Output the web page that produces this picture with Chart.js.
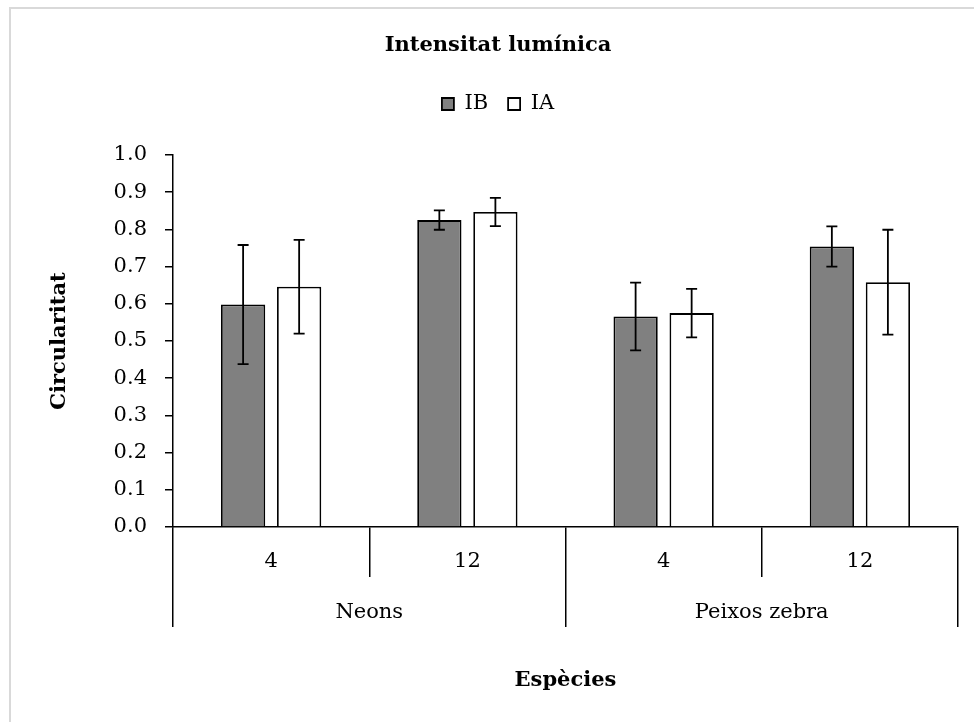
<!DOCTYPE html>
<html>
<head>
<meta charset="utf-8">
<title>Intensitat lumínica</title>
<script src="https://cdn.jsdelivr.net/npm/chart.js@4.4.1/dist/chart.umd.min.js"></script>
<style>
  html, body { margin: 0; padding: 0; background: #fff; overflow: hidden; }
  #wrap { position: relative; width: 974px; height: 722px; }
  #frame {
    position: absolute; left: 9px; top: 7px; width: 1000px; height: 760px;
    border-left: 2px solid #d9d9d9; border-top: 2px solid #d9d9d9; box-sizing: border-box;
  }
  canvas { position: absolute; left: 0; top: 0; }
</style>
</head>
<body>
<div id="wrap">
  <div id="frame"></div>
  <canvas id="chart" width="974" height="722"></canvas>
</div>
<script>
// Circularity by fish size, grouped by species, for two light intensities
const chartTitle = 'Intensitat lumínica';
const seriesNames = ['IB', 'IA'];
const fishSizes = ['4', '12', '4', '12'];
const species = ['Neons', 'Peixos zebra'];
const ibMeans = [0.598, 0.825, 0.566, 0.754];
const ibErrors = [0.160, 0.026, 0.091, 0.054];
const iaMeans = [0.646, 0.847, 0.575, 0.658];
const iaErrors = [0.126, 0.038, 0.065, 0.141];
const yAxisTitle = 'Circularitat';
const xAxisTitle = 'Espècies';

const FONT = "'DejaVu Serif', serif";
Chart.defaults.font.family = FONT;
Chart.defaults.color = '#000';

// whiskers: mean ± error, positioned through the y scale
const errorBars = {
  id: 'errorBars',
  afterDatasetsDraw(chart) {
    const ctx = chart.ctx;
    const y = chart.scales.y;
    ctx.save();
    ctx.strokeStyle = '#000';
    ctx.lineWidth = 1.8;
    chart.data.datasets.forEach((ds, i) => {
      const meta = chart.getDatasetMeta(i);
      meta.data.forEach((bar, j) => {
        const v = ds.data[j], e = ds.errors[j];
        const top = y.getPixelForValue(v + e);
        const bot = y.getPixelForValue(v - e);
        const cap = 5.5;
        ctx.beginPath();
        ctx.moveTo(bar.x, top); ctx.lineTo(bar.x, bot);
        ctx.moveTo(bar.x - cap, top); ctx.lineTo(bar.x + cap, top);
        ctx.moveTo(bar.x - cap, bot); ctx.lineTo(bar.x + cap, bot);
        ctx.stroke();
      });
    });
    ctx.restore();
  }
};

new Chart(document.getElementById('chart'), {
  type: 'bar',
  data: {
    labels: fishSizes,
    datasets: [
      {
        label: seriesNames[0], data: ibMeans, errors: ibErrors,
        xAxisID: 'x', yAxisID: 'y',
        backgroundColor: '#808080', borderColor: '#000', borderWidth: 1.8,
        categoryPercentage: 0.571, barPercentage: 0.79
      },
      {
        label: seriesNames[1], data: iaMeans, errors: iaErrors,
        xAxisID: 'x', yAxisID: 'y',
        backgroundColor: '#ffffff', borderColor: '#000', borderWidth: 1.8,
        categoryPercentage: 0.571, barPercentage: 0.79
      }
    ]
  },
  options: {
    responsive: false,
    animation: false,
    layout: { padding: { left: 38, right: 16, top: 0, bottom: 0 } },
    plugins: {
      title: {
        display: true, text: chartTitle, color: '#000',
        font: { family: FONT, size: 21, weight: 'bold' },
        padding: { top: 33, bottom: 15.3 }
      },
      legend: {
        display: true, position: 'top',
        labels: { boxWidth: 12, boxHeight: 12, padding: 20, color: '#000', font: { family: FONT, size: 21 } }
      },
      tooltip: { enabled: false }
    },
    scales: {
      x: {
        type: 'category', position: 'bottom', weight: 0, z: 1,
        offset: true,
        grid: { offset: true, drawOnChartArea: false, tickLength: 50, color: '#000', lineWidth: 1.5 },
        border: { color: '#000', width: 1.5 },
        ticks: { autoSkip: false, maxRotation: 0, padding: -28, color: '#000', font: { family: FONT, size: 21 } },
        afterFit(s) { s.height = 50; }
      },
      y: {
        min: 0, max: 1,
        ticks: {
          stepSize: 0.1, autoSkip: false, padding: 18, color: '#000',
          font: { family: FONT, size: 21 },
          callback: v => Number(v).toFixed(1)
        },
        grid: { drawOnChartArea: false, tickLength: 8, color: '#000', lineWidth: 1.5 },
        border: { color: '#000', width: 1.5 },
        title: {
          display: true, text: yAxisTitle, color: '#000',
          font: { family: FONT, size: 21, weight: 'bold' },
          padding: { top: 9.4, bottom: 0 }
        },
        afterFit(s) { s.width = 135; }
      },
      x2: {
        type: 'category', position: 'bottom', weight: 1,
        labels: species, offset: true,
        grid: { offset: true, drawOnChartArea: false, tickLength: 50, color: '#000', lineWidth: 1.5 },
        border: { display: false },
        ticks: { autoSkip: false, maxRotation: 0, padding: -27, color: '#000', font: { family: FONT, size: 21 } },
        title: {
          display: true, text: xAxisTitle, color: '#000',
          font: { family: FONT, size: 21, weight: 'bold' },
          padding: { top: 0, bottom: 28.4 }
        },
        afterFit(s) { s.height = 145; }
      },
      legendGap: {
        type: 'category', position: 'top', labels: [''],
        grid: { display: false }, ticks: { display: false }, border: { display: false },
        afterFit(s) { s.height = 30.5; }
      }
    }
  },
  plugins: [errorBars]
});
</script>
</body>
</html>
